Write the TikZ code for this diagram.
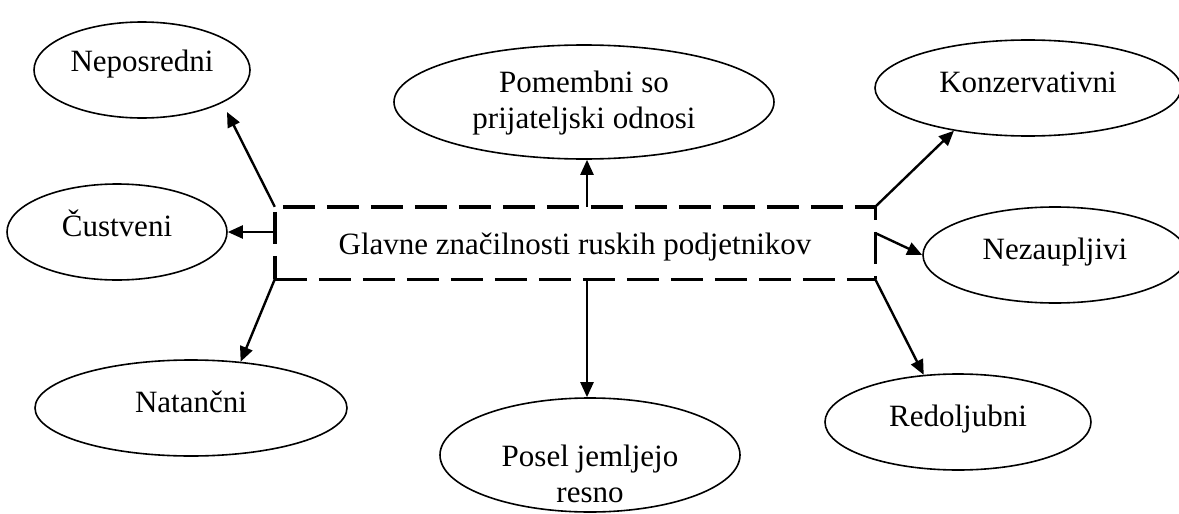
\documentclass[tikz,border=0pt]{standalone}
\usepackage{fontspec}
\setmainfont{Liberation Serif}
\usetikzlibrary{arrows.meta,shapes.geometric,calc}
\begin{document}
\begin{tikzpicture}[x=1pt,y=-1pt,
  ell/.style={draw,ellipse,line width=1.6pt,inner sep=0pt},
  lbl/.style={anchor=base,inner sep=0pt,font=\fontsize{31}{36}\selectfont},
  arr/.style={line width=2.4pt,-{Triangle[length=15pt,width=13pt]}},
  dsh/.style={line width=3.4pt,dash pattern=on 32pt off 12pt}]
\useasboundingbox (0,0) rectangle (1179,514);
% central box
\node[minimum width=600pt,minimum height=72pt,inner sep=0pt] (box) at (575,243) {};
\node[lbl] (boxtxt) at ($(box.center)+(0,11)$) {Glavne značilnosti ruskih podjetnikov};
\draw[dsh,dash phase=36pt] (box.north west) -- (box.north east);
\draw[dsh] (box.south west) -- (box.south east);
\draw[dsh,dash phase=39pt] (box.north west) -- (box.south west);
\draw[dsh,dash phase=19pt] (box.north east) -- (box.south east);
% ellipses
\node[ell,minimum width=216pt,minimum height=96pt] (nep) at (142,70) {};
\node[ell,minimum width=220pt,minimum height=96pt] (cus) at (117,232) {};
\node[ell,minimum width=312pt,minimum height=96pt] (nat) at (191,408) {};
\node[ell,minimum width=380pt,minimum height=114pt] (pom) at (584,102) {};
\node[ell,minimum width=300pt,minimum height=114pt] (pos) at (590,455) {};
\node[ell,minimum width=306pt,minimum height=96pt] (kon) at (1028,88) {};
\node[ell,minimum width=264pt,minimum height=96pt] (nez) at (1055,255) {};
\node[ell,minimum width=266pt,minimum height=96pt] (red) at (958,422) {};
% labels
\node[lbl] (tnep) at ($(nep.center)+(0,1)$) {Neposredni};
\node[lbl] (tcus) at ($(cus.center)+(0,4)$) {Čustveni};
\node[lbl] (tnat) at ($(nat.center)+(0,4)$) {Natančni};
\node[lbl] (tpom1) at ($(pom.center)+(0,-10)$) {Pomembni so};
\node[lbl] (tpom2) at ($(pom.center)+(0,26)$) {prijateljski odnosi};
\node[lbl] (tpos1) at ($(pos.center)+(0,11)$) {Posel jemljejo};
\node[lbl] (tpos2) at ($(pos.center)+(0,47)$) {resno};
\node[lbl] (tkon) at ($(kon.center)+(0,4)$) {Konzervativni};
\node[lbl] (tnez) at ($(nez.center)+(0,4)$) {Nezaupljivi};
\node[lbl] (tred) at ($(red.center)+(0,4)$) {Redoljubni};
% connectors
\coordinate (px) at (587,0);
\coordinate (nepend) at (227,112);
\draw[arr] (box.north west) -- (nepend);
\draw[arr] (box.west |- cus.east) -- (cus.east);
\draw[arr] (box.south west) -- (nat.43);
\draw[arr] (box.north -| px) -- (pom.south -| px);
\draw[arr] (box.south -| px) -- (pos.north -| px);
\draw[arr] (box.north east) -- (kon.-150);
\draw[arr] ([yshift=10pt]box.east) -- (nez.west);
\draw[arr] (box.south east) -- (red.126);
\end{tikzpicture}
\end{document}
